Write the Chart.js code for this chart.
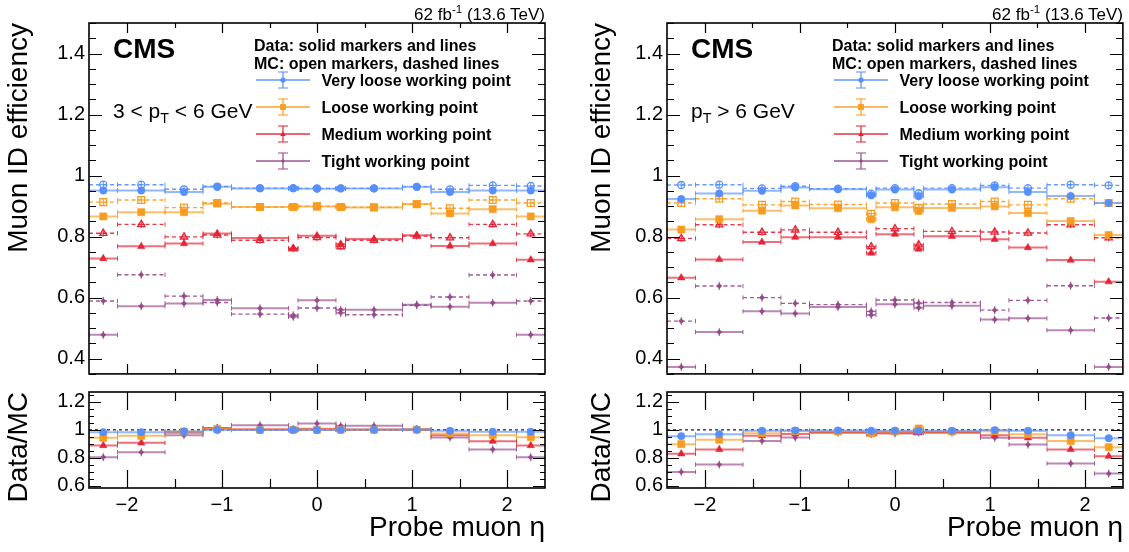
<!DOCTYPE html>
<html>
<head>
<meta charset="utf-8">
<script src="https://cdn.jsdelivr.net/npm/chart.js@4.4.1/dist/chart.umd.min.js"></script>
<style>
  body { margin: 0; width: 1129px; height: 552px; background: #fff; position: relative; overflow: hidden;
         font-family: "Liberation Sans", Arial, Helvetica, sans-serif; }
  canvas { position: absolute; }
  .t { position: absolute; white-space: nowrap; line-height: 1; color: #000; transform: translateY(-50%); }
  .t sub { font-size: 0.68em; vertical-align: -0.4em; line-height: 0; }
  .t sup { font-size: 0.68em; vertical-align: 0.55em; line-height: 0; }
</style>
</head>
<body>
<canvas id="lowMain" width="560" height="380" style="left:0;top:0"></canvas>
<canvas id="lowRatio" width="560" height="172" style="left:0;top:380px"></canvas>
<canvas id="highMain" width="549" height="380" style="left:580px;top:0"></canvas>
<canvas id="highRatio" width="549" height="172" style="left:580px;top:380px"></canvas>

<script>
const FONT = '"Liberation Sans", Arial, Helvetica, sans-serif';

// eta binning and axis ticks
const etaEdges = [-2.4, -2.1, -1.6, -1.2, -0.9, -0.3, -0.2, 0.2, 0.3, 0.9, 1.2, 1.6, 2.1, 2.4];
const xTickValues = [-2, -1, 0, 1, 2];
const xTickLabels = ['\u22122', '\u22121', '0', '1', '2'];
const effTickValues = [0.4, 0.6, 0.8, 1, 1.2, 1.4];
const effTickLabels = ['0.4', '0.6', '0.8', '1', '1.2', '1.4'];
const ratioTickValues = [0.6, 0.8, 1, 1.2];
const ratioTickLabels = ['0.6', '0.8', '1', '1.2'];
const workingPoints = ['Very loose working point', 'Loose working point', 'Medium working point', 'Tight working point'];

// 3 < pT < 6 GeV
const lowVLooseData = [0.951, 0.951, 0.946, 0.963, 0.958, 0.958, 0.957, 0.958, 0.958, 0.963, 0.946, 0.951, 0.951];
const lowVLooseMC   = [0.970, 0.970, 0.955, 0.964, 0.959, 0.959, 0.958, 0.958, 0.958, 0.963, 0.955, 0.968, 0.966];
const lowLooseData  = [0.866, 0.880, 0.880, 0.908, 0.897, 0.897, 0.899, 0.897, 0.895, 0.907, 0.876, 0.890, 0.866];
const lowLooseMC    = [0.913, 0.920, 0.895, 0.910, 0.897, 0.897, 0.899, 0.897, 0.896, 0.906, 0.893, 0.920, 0.910];
const lowMediumData = [0.728, 0.768, 0.777, 0.810, 0.795, 0.762, 0.803, 0.776, 0.792, 0.804, 0.769, 0.777, 0.724];
const lowMediumMC   = [0.811, 0.840, 0.799, 0.805, 0.788, 0.760, 0.797, 0.767, 0.788, 0.802, 0.796, 0.840, 0.809];
const lowTightData  = [0.478, 0.572, 0.581, 0.592, 0.565, 0.542, 0.591, 0.560, 0.560, 0.577, 0.570, 0.583, 0.478];
const lowTightMC    = [0.589, 0.675, 0.605, 0.584, 0.546, 0.537, 0.566, 0.550, 0.544, 0.575, 0.602, 0.674, 0.589];
const lowVLooseRatio = [0.983, 0.983, 0.988, 0.999, 0.999, 0.999, 0.999, 1.000, 1.000, 1.000, 0.993, 0.986, 0.986];
const lowLooseRatio  = [0.943, 0.957, 0.988, 1.007, 1.000, 1.000, 1.000, 1.000, 1.000, 1.002, 0.974, 0.962, 0.948];
const lowMediumRatio = [0.888, 0.907, 0.979, 1.010, 1.005, 0.998, 1.007, 1.010, 1.002, 1.002, 0.962, 0.919, 0.888];
const lowTightRatio  = [0.805, 0.840, 0.962, 1.014, 1.033, 1.005, 1.045, 1.029, 1.029, 1.002, 0.945, 0.860, 0.805];

// pT > 6 GeV
const highVLooseData = [0.923, 0.941, 0.950, 0.961, 0.955, 0.935, 0.954, 0.932, 0.954, 0.962, 0.946, 0.933, 0.910];
const highVLooseMC   = [0.969, 0.970, 0.958, 0.965, 0.957, 0.941, 0.959, 0.942, 0.959, 0.968, 0.959, 0.970, 0.968];
const highLooseData  = [0.823, 0.857, 0.885, 0.902, 0.893, 0.857, 0.896, 0.884, 0.894, 0.899, 0.877, 0.851, 0.805];
const highLooseMC    = [0.910, 0.924, 0.904, 0.915, 0.905, 0.875, 0.910, 0.894, 0.907, 0.915, 0.904, 0.924, 0.910];
const highMediumData = [0.665, 0.725, 0.782, 0.798, 0.798, 0.746, 0.808, 0.759, 0.801, 0.791, 0.764, 0.723, 0.652];
const highMediumMC   = [0.794, 0.839, 0.814, 0.822, 0.814, 0.767, 0.826, 0.773, 0.817, 0.815, 0.812, 0.839, 0.796];
const highTightData  = [0.373, 0.487, 0.555, 0.548, 0.569, 0.543, 0.578, 0.567, 0.573, 0.528, 0.532, 0.493, 0.373];
const highTightMC    = [0.523, 0.638, 0.600, 0.581, 0.577, 0.555, 0.592, 0.582, 0.584, 0.559, 0.591, 0.639, 0.533];
const highVLooseRatio = [0.955, 0.969, 0.993, 0.995, 0.995, 0.993, 0.994, 0.993, 0.993, 0.998, 0.993, 0.962, 0.940];
const highLooseRatio  = [0.898, 0.929, 0.976, 0.990, 0.988, 0.976, 0.988, 1.010, 0.988, 0.990, 0.969, 0.921, 0.876];
const highMediumRatio = [0.829, 0.860, 0.957, 0.971, 0.981, 0.969, 0.981, 0.979, 0.981, 0.962, 0.943, 0.860, 0.812];
const highTightRatio  = [0.700, 0.752, 0.921, 0.945, 0.981, 0.971, 0.974, 0.981, 0.981, 0.943, 0.895, 0.760, 0.688];

// marker styles per working point
const wpStyles = [
  { color: '#5790fc', shape: 'circle',   r: 3.7, openR: 3.5, legR: 2.6, cross: true },
  { color: '#f89c20', shape: 'rect',     r: 5.0, openR: 4.8, legR: 3.6, cross: true },
  { color: '#e42536', shape: 'triangle', r: 4.2, openR: 4.2, legR: 2.8, cross: true },
  { color: '#964a8b', shape: 'rectRot',  r: 2.6, openR: 2.6, legR: 2.0, cross: false }
];

function rgba(hex, a) {
  const n = parseInt(hex.slice(1), 16);
  return 'rgba(' + (n >> 16) + ',' + ((n >> 8) & 255) + ',' + (n & 255) + ',' + a + ')';
}

function segments(vals) {
  const pts = [];
  for (let i = 0; i < vals.length; i++) {
    pts.push({ x: etaEdges[i], y: vals[i] });
    pts.push({ x: etaEdges[i + 1], y: vals[i] });
    pts.push({ x: etaEdges[i + 1], y: null });
  }
  return pts;
}

function centres(vals) {
  return vals.map((v, i) => ({ x: (etaEdges[i] + etaEdges[i + 1]) / 2, y: v }));
}

function seriesSets(vals, st, mc) {
  const sets = [];
  sets.push({
    type: 'line', data: segments(vals), spanGaps: false, tension: 0, fill: false,
    borderColor: rgba(st.color, mc ? 0.9 : 0.65), borderWidth: mc ? 1.4 : 2,
    borderDash: mc ? [4, 3] : [],
    pointStyle: 'line', pointRotation: 90, pointRadius: 2.2, pointBorderWidth: 1,
    pointBorderColor: rgba(st.color, 0.85), pointHoverRadius: 0, order: 3
  });
  const open = mc && st.cross;
  sets.push({
    type: 'scatter', data: centres(vals), showLine: false,
    pointStyle: st.shape, pointRadius: open ? st.openR : st.r,
    pointBackgroundColor: open ? 'rgba(255,255,255,0)' : st.color,
    pointBorderColor: st.color, pointBorderWidth: open ? 1.3 : 0.6, order: 1
  });
  if (open) {
    sets.push({
      type: 'scatter', data: centres(vals), showLine: false,
      pointStyle: 'cross', pointRadius: st.shape === 'rect' ? 3.3 : 3.5,
      pointBorderColor: st.color, pointBorderWidth: 1, order: 1
    });
  }
  if (!st.cross) {
    sets.push({
      type: 'scatter', data: centres(vals), showLine: false,
      pointStyle: 'line', pointRotation: 90, pointRadius: 4,
      pointBorderColor: st.color, pointBorderWidth: 1, order: 1
    });
  }
  return sets;
}

// ROOT-like frame with inward ticks on all four sides
const frameTicks = {
  id: 'frameTicks',
  afterDatasetsDraw(chart, args, o) {
    const { ctx, chartArea: a } = chart;
    const xs = chart.scales.x, ys = chart.scales.y;
    const isMajor = (list, v) => list.some(m => Math.abs(m - v) < 1e-6);
    ctx.save();
    ctx.strokeStyle = '#000';
    ctx.lineWidth = 1.2;
    ctx.beginPath();
    for (let k = Math.ceil(xs.min / o.xStep - 1e-9); k * o.xStep <= xs.max + 1e-9; k++) {
      const v = k * o.xStep, px = Math.round(xs.getPixelForValue(v)) + 0.5;
      const len = isMajor(o.xMajor, v) ? o.xLong : o.xShort;
      ctx.moveTo(px, a.bottom); ctx.lineTo(px, a.bottom - len);
      ctx.moveTo(px, a.top); ctx.lineTo(px, a.top + len);
    }
    for (let k = Math.ceil(ys.min / o.yStep - 1e-9); k * o.yStep <= ys.max + 1e-9; k++) {
      const v = k * o.yStep, py = Math.round(ys.getPixelForValue(v)) + 0.5;
      const len = isMajor(o.yMajor, v) ? o.yLong : o.yShort;
      ctx.moveTo(a.left, py); ctx.lineTo(a.left + len, py);
      ctx.moveTo(a.right, py); ctx.lineTo(a.right - len, py);
    }
    ctx.stroke();
    ctx.lineWidth = 1.6;
    ctx.strokeRect(a.left, a.top, a.right - a.left, a.bottom - a.top);
    ctx.restore();
  }
};

function drawShape(ctx, shape, x, y, r) {
  ctx.beginPath();
  if (shape === 'circle') ctx.arc(x, y, r, 0, Math.PI * 2);
  else if (shape === 'rect') ctx.rect(x - r * 0.8, y - r * 0.8, r * 1.6, r * 1.6);
  else if (shape === 'triangle') { ctx.moveTo(x, y - r); ctx.lineTo(x + r, y + r * 0.7); ctx.lineTo(x - r, y + r * 0.7); ctx.closePath(); }
  else { ctx.moveTo(x, y - r); ctx.lineTo(x + r, y); ctx.lineTo(x, y + r); ctx.lineTo(x - r, y); ctx.closePath(); }
  ctx.fill();
}

// legend symbols (line + error bar + marker)
const legendSymbols = {
  id: 'legendSymbols',
  afterDraw(chart, args, o) {
    if (!o.rows) return;
    const ctx = chart.ctx, L = chart.chartArea.left;
    ctx.save();
    o.rows.forEach((y, i) => {
      const st = wpStyles[i];
      ctx.strokeStyle = rgba(st.color, 0.7);
      ctx.lineWidth = 2;
      ctx.beginPath(); ctx.moveTo(L + 167, y); ctx.lineTo(L + 221, y); ctx.stroke();
      ctx.strokeStyle = st.color;
      ctx.lineWidth = 1.2;
      const cx = L + 194;
      ctx.beginPath();
      ctx.moveTo(cx, y - 8); ctx.lineTo(cx, y + 8);
      ctx.moveTo(cx - 5, y - 8); ctx.lineTo(cx + 5, y - 8);
      ctx.moveTo(cx - 5, y + 8); ctx.lineTo(cx + 5, y + 8);
      ctx.stroke();
      ctx.fillStyle = st.color;
      drawShape(ctx, st.shape, cx, y, st.legR);
    });
    ctx.restore();
  }
};

function noEdgePadding(s) {
  s.paddingTop = 0; s.paddingBottom = 0; s.paddingLeft = 0; s.paddingRight = 0;
}

function makeChart(id, datasets, c) {
  return new Chart(document.getElementById(id), {
    data: { datasets: datasets },
    plugins: [frameTicks, legendSymbols],
    options: {
      responsive: false, animation: false, events: [],
      layout: { padding: c.padding },
      plugins: {
        legend: { display: false }, tooltip: { enabled: false },
        frameTicks: c.ticks,
        legendSymbols: { rows: c.legendRows || null }
      },
      scales: {
        x: {
          type: 'linear', min: -2.4, max: 2.4,
          grid: { display: false, drawTicks: false }, border: { display: false },
          afterBuildTicks: s => { s.ticks = xTickValues.map(v => ({ value: v })); },
          ticks: {
            display: c.showX, autoSkip: false, maxRotation: 0, padding: 5, color: '#000',
            font: { family: FONT, size: 20 }, callback: (v, i) => xTickLabels[i]
          },
          title: {
            display: c.showX, text: 'Probe muon \u03b7', align: 'end', color: '#000',
            font: { family: FONT, size: 28 }, padding: { top: 0, bottom: 7 }
          },
          afterFit: s => { s.height = c.xHeight; noEdgePadding(s); }
        },
        y: {
          type: 'linear', min: c.yMin, max: c.yMax,
          grid: { display: false, drawTicks: false }, border: { display: false },
          afterBuildTicks: s => { s.ticks = c.yTicks.map(v => ({ value: v })); },
          ticks: {
            autoSkip: false, padding: 4, color: '#000',
            font: { family: FONT, size: 20 }, callback: (v, i) => c.yLabels[i]
          },
          title: {
            display: true, text: c.yTitle, align: 'end', color: '#000',
            font: { family: FONT, size: 28 }, padding: { top: c.titlePad, bottom: 0 }
          },
          afterFit: s => { s.width = c.yWidth; noEdgePadding(s); }
        }
      }
    }
  });
}

function mainSets(data, mc) {
  let sets = [];
  for (let i = 0; i < 4; i++) {
    sets = sets.concat(seriesSets(mc[i], wpStyles[i], true), seriesSets(data[i], wpStyles[i], false));
  }
  return sets;
}

function ratioSets(ratios) {
  let sets = [{
    type: 'line', data: [{ x: -2.4, y: 1 }, { x: 2.4, y: 1 }], borderColor: '#333', borderWidth: 1.4,
    borderDash: [3, 3], pointRadius: 0, order: 4
  }];
  for (let i = 0; i < 4; i++) sets = sets.concat(seriesSets(ratios[i], wpStyles[i], false));
  return sets;
}

const mainTicks = { xStep: 0.5, xMajor: xTickValues, xLong: 10, xShort: 5, yStep: 0.05, yMajor: effTickValues, yLong: 13, yShort: 7 };
const ratioTicks = { xStep: 0.5, xMajor: xTickValues, xLong: 18, xShort: 9, yStep: 0.05, yMajor: ratioTickValues, yLong: 12, yShort: 5 };
const legendRows = [80, 107, 134, 161];

makeChart('lowMain',
  mainSets([lowVLooseData, lowLooseData, lowMediumData, lowTightData], [lowVLooseMC, lowLooseMC, lowMediumMC, lowTightMC]),
  { padding: { left: 0, top: 23, right: 15, bottom: 3 }, yMin: 0.35, yMax: 1.5, yTicks: effTickValues, yLabels: effTickLabels,
    yTitle: 'Muon ID efficiency', yWidth: 89, titlePad: 2, showX: false, xHeight: 0, ticks: mainTicks, legendRows: legendRows });
makeChart('lowRatio',
  ratioSets([lowVLooseRatio, lowLooseRatio, lowMediumRatio, lowTightRatio]),
  { padding: { left: 0, top: 12, right: 15, bottom: 0 }, yMin: 0.585, yMax: 1.27, yTicks: ratioTickValues, yLabels: ratioTickLabels,
    yTitle: 'Data/MC', yWidth: 89, titlePad: 2, showX: true, xHeight: 64, ticks: ratioTicks });
makeChart('highMain',
  mainSets([highVLooseData, highLooseData, highMediumData, highTightData], [highVLooseMC, highLooseMC, highMediumMC, highTightMC]),
  { padding: { left: 0, top: 23, right: 6, bottom: 3 }, yMin: 0.35, yMax: 1.5, yTicks: effTickValues, yLabels: effTickLabels,
    yTitle: 'Muon ID efficiency', yWidth: 87, titlePad: 5.5, showX: false, xHeight: 0, ticks: mainTicks, legendRows: legendRows });
makeChart('highRatio',
  ratioSets([highVLooseRatio, highLooseRatio, highMediumRatio, highTightRatio]),
  { padding: { left: 0, top: 12, right: 6, bottom: 0 }, yMin: 0.585, yMax: 1.27, yTicks: ratioTickValues, yLabels: ratioTickLabels,
    yTitle: 'Data/MC', yWidth: 87, titlePad: 5.5, showX: true, xHeight: 64, ticks: ratioTicks });

// text annotations (CMS label, luminosity, legend text)
function addText(html, x, y, size, bold, rightAlign) {
  const d = document.createElement('div');
  d.className = 't';
  d.innerHTML = html;
  d.style.fontSize = size + 'px';
  d.style.fontWeight = bold ? 'bold' : 'normal';
  d.style.top = y + 'px';
  if (rightAlign) d.style.right = (1129 - x) + 'px'; else d.style.left = x + 'px';
  document.body.appendChild(d);
}

const panels = [
  { left: 89, right: 545, ptLabel: '3 &lt; p<sub>T</sub> &lt; 6 GeV' },
  { left: 667, right: 1123, ptLabel: 'p<sub>T</sub> &gt; 6 GeV' }
];
panels.forEach(p => {
  addText('62 fb<sup>-1</sup> (13.6 TeV)', p.right, 14, 17, false, true);
  addText('CMS', p.left + 24, 49, 28, true, false);
  addText(p.ptLabel, p.left + 24, 110, 21, false, false);
  addText('Data: solid markers and lines', p.left + 165, 46, 16, true, false);
  addText('MC: open markers, dashed lines', p.left + 165, 63.5, 16, true, false);
  workingPoints.forEach((name, i) => addText(name, p.left + 232.5, legendRows[i] + 0.5, 16, true, false));
});
</script>
</body>
</html>
